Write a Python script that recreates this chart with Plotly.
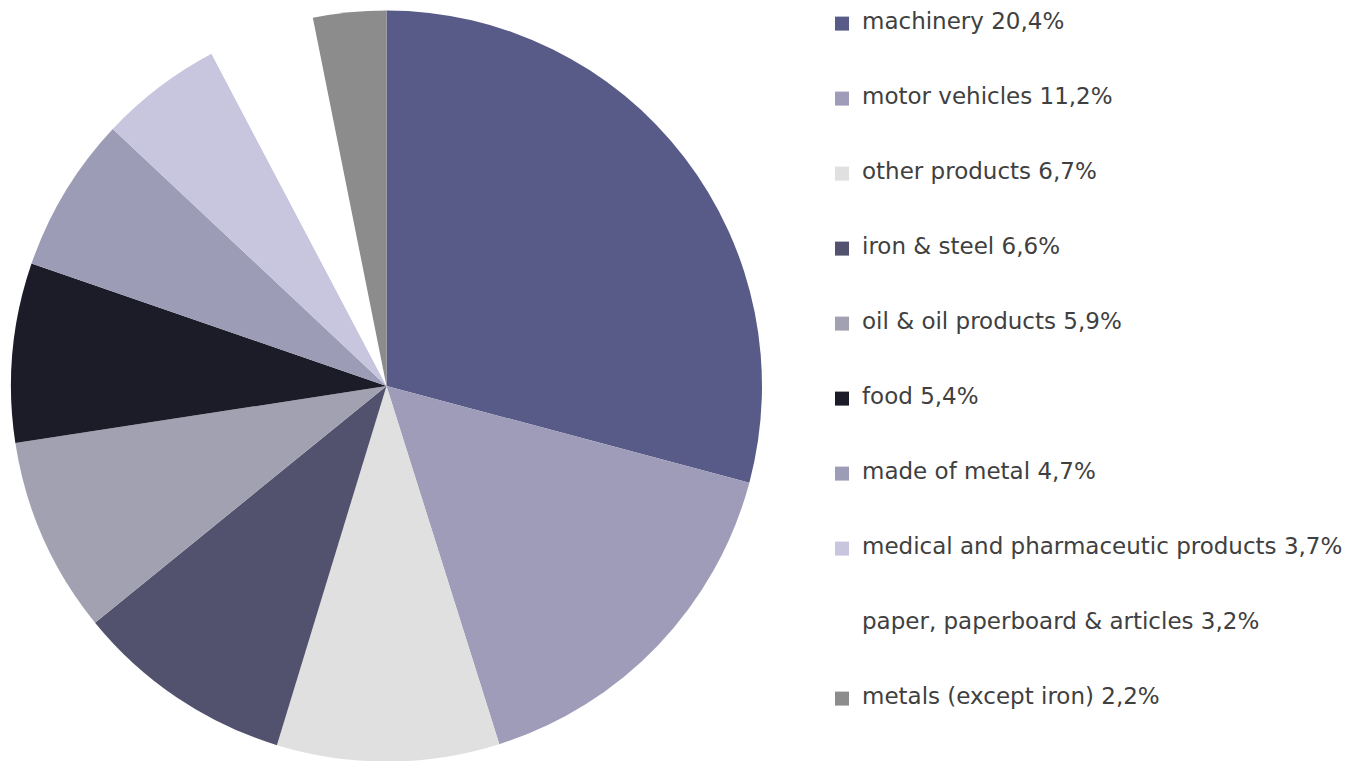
import plotly.graph_objects as go

categories = ["machinery", "motor vehicles", "other products", "iron & steel",
              "oil & oil products", "food", "made of metal",
              "medical and pharmaceutic products", "paper, paperboard & articles",
              "metals (except iron)"]
values = [20.4, 11.2, 6.7, 6.6, 5.9, 5.4, 4.7, 3.7, 3.2, 2.2]
value_labels = ["20,4%", "11,2%", "6,7%", "6,6%", "5,9%", "5,4%", "4,7%", "3,7%", "3,2%", "2,2%"]
colors = ["#585A88", "#9E9CB8", "#E0E0E0", "#52516E", "#A2A1B2", "#1C1C28",
          "#9D9CB6", "#C8C6DE", "#FFFFFF", "#8C8C8C"]

W, H = 1352, 761

fig = go.Figure()
fig.add_trace(go.Pie(
    labels=categories, values=values, sort=False, direction="clockwise",
    rotation=0, marker=dict(colors=colors, line=dict(width=0)),
    textinfo="none", hoverinfo="label+percent", showlegend=False,
    domain=dict(x=[3 / W, 754 / W], y=[7.5 / H, 758.5 / H]),
))

for i, (c, v, col) in enumerate(zip(categories, value_labels, colors)):
    fig.add_trace(go.Scatter(
        x=[None], y=[None], mode="markers",
        name=f'<span style="font-size:23px">{c} {v}</span>',
        marker=dict(symbol="square", size=14, color=col, line=dict(width=0)),
        legendgroup=f"g{i}", showlegend=True,
    ))

fig.update_layout(
    width=W, height=H,
    margin=dict(l=0, r=0, t=0, b=0, autoexpand=False),
    paper_bgcolor="white", plot_bgcolor="white",
    xaxis=dict(visible=False), yaxis=dict(visible=False),
    showlegend=True,
    legend=dict(
        x=814 / W, xanchor="left", y=1.0, yanchor="top",
        font=dict(family="DejaVu Sans", size=14, color="#404040"),
        tracegroupgap=53.8, bgcolor="rgba(0,0,0,0)", borderwidth=0,
        itemclick=False, itemdoubleclick=False,
    ),
)

fig.write_html("out.html")
